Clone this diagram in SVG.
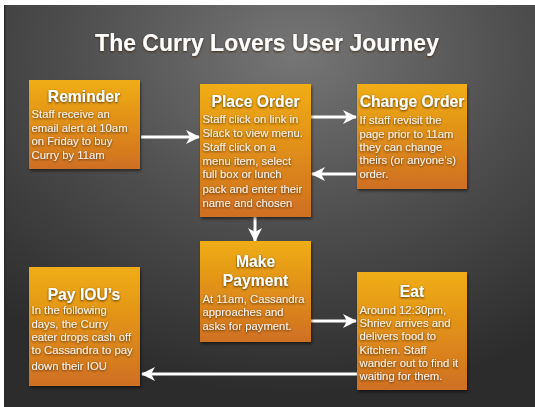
<svg xmlns="http://www.w3.org/2000/svg" width="535" height="407" viewBox="0 0 535 407">
<defs>
<radialGradient id="bg" cx="0.55" cy="0.12" r="0.85" fx="0.55" fy="0.12">
<stop offset="0" stop-color="#767676"/>
<stop offset="0.5" stop-color="#4e4e4e"/>
<stop offset="1" stop-color="#2c2c2c"/>
</radialGradient>
<linearGradient id="box" x1="0" y1="0" x2="0" y2="1">
<stop offset="0" stop-color="#f0ad12"/>
<stop offset="1" stop-color="#cf6f22"/>
</linearGradient>
<filter id="ts" x="-10%" y="-30%" width="120%" height="160%">
<feDropShadow dx="0" dy="1" stdDeviation="1.2" flood-color="#3a2000" flood-opacity="0.85"/>
</filter>
<filter id="bs" x="-10%" y="-10%" width="125%" height="125%">
<feDropShadow dx="1" dy="2" stdDeviation="1.5" flood-color="#000" flood-opacity="0.5"/>
</filter>
<marker id="ah" viewBox="0 0 14 14" refX="13" refY="7" markerWidth="14" markerHeight="14" markerUnits="userSpaceOnUse" orient="auto">
<path d="M0,0 L14,7 L0,14 L4,7 z" fill="#fff"/>
</marker>
</defs>
<style>
.box{fill:url(#box);filter:url(#bs)}
.t{font-family:"Liberation Sans",Arial,sans-serif;font-weight:bold;font-size:15.7px;fill:#fff;filter:url(#ts)}
.b{font-family:"Liberation Sans",Arial,sans-serif;font-size:11.3px;fill:#f6f0e6;filter:url(#ts)}
.c{fill:none;stroke:#fff;stroke-width:3;marker-end:url(#ah)}
</style>
<rect width="535" height="407" fill="#fff"/>
<rect x="4" y="5" width="531" height="402" fill="url(#bg)"/>
<rect x="4" y="5" width="1.5" height="402" fill="#2a2a2a"/>
<text x="267" y="51" text-anchor="middle" font-family="Liberation Sans,Arial,sans-serif" font-weight="bold" font-size="23" fill="#fff" filter="url(#ts)">The Curry Lovers User Journey</text>

<g id="connectors">
<line class="c" x1="141" y1="137" x2="199" y2="137"/>
<line class="c" x1="311" y1="117" x2="356" y2="117"/>
<line class="c" x1="356" y1="174" x2="312" y2="174"/>
<line class="c" x1="255" y1="217" x2="255" y2="241"/>
<line class="c" x1="311" y1="321" x2="356" y2="321"/>
<line class="c" x1="357" y1="374" x2="142" y2="374"/>
</g>

<g id="reminder">
<rect class="box" x="29" y="80" width="111" height="89"/>
<text class="t" x="84" y="102" text-anchor="middle">Reminder</text>
<text class="b" x="31.5" y="118">Staff receive an</text>
<text class="b" x="31.5" y="131.5">email alert at 10am</text>
<text class="b" x="31.5" y="145">on Friday to buy</text>
<text class="b" x="31.5" y="158.5">Curry by 11am</text>
</g>

<g id="place-order">
<rect class="box" x="200" y="84" width="111" height="133"/>
<text class="t" x="255.5" y="107" text-anchor="middle">Place Order</text>
<text class="b" x="202.5" y="123">Staff click on link in</text>
<text class="b" x="202.5" y="137">Slack to view menu.</text>
<text class="b" x="202.5" y="150.5">Staff click on a</text>
<text class="b" x="202.5" y="164.5">menu item, select</text>
<text class="b" x="202.5" y="178">full box or lunch</text>
<text class="b" x="202.5" y="193">pack and enter their</text>
<text class="b" x="202.5" y="206.5">name and chosen</text>
</g>

<g id="change-order">
<rect class="box" x="357" y="84" width="110" height="105"/>
<text class="t" x="412" y="107" text-anchor="middle">Change Order</text>
<text class="b" x="359.5" y="124">If staff revisit the</text>
<text class="b" x="359.5" y="137.5">page prior to 11am</text>
<text class="b" x="359.5" y="150.5">they can change</text>
<text class="b" x="359.5" y="164">theirs (or anyone’s)</text>
<text class="b" x="359.5" y="177.5">order.</text>
</g>

<g id="pay-ious">
<rect class="box" x="29" y="267" width="111" height="119"/>
<text class="t" x="84" y="299.5" text-anchor="middle">Pay IOU’s</text>
<text class="b" x="31.5" y="314">In the following</text>
<text class="b" x="31.5" y="327.5">days, the Curry</text>
<text class="b" x="31.5" y="341">eater drops cash off</text>
<text class="b" x="31.5" y="354">to Cassandra to pay</text>
<text class="b" x="31.5" y="369.5">down their IOU</text>
</g>

<g id="make-payment">
<rect class="box" x="200" y="241" width="111" height="101"/>
<text class="t" x="255.5" y="267" text-anchor="middle">Make</text>
<text class="t" x="255.5" y="285.5" text-anchor="middle">Payment</text>
<text class="b" x="202.5" y="302.5">At 11am, Cassandra</text>
<text class="b" x="202.5" y="316">approaches and</text>
<text class="b" x="202.5" y="330">asks for payment.</text>
</g>

<g id="eat">
<rect class="box" x="357" y="272" width="110" height="118"/>
<text class="t" x="412" y="296.5" text-anchor="middle">Eat</text>
<text class="b" x="359.5" y="313.5">Around 12:30pm,</text>
<text class="b" x="359.5" y="327">Shriev arrives and</text>
<text class="b" x="359.5" y="340">delivers food to</text>
<text class="b" x="359.5" y="353.5">Kitchen. Staff</text>
<text class="b" x="359.5" y="366.5">wander out to find it</text>
<text class="b" x="359.5" y="380">waiting for them.</text>
</g>
</svg>
